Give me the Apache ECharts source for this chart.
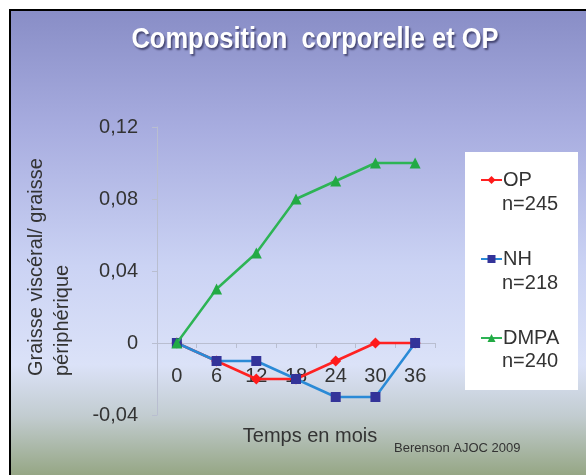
<!DOCTYPE html>
<html><head><meta charset="utf-8">
<script src="https://cdn.jsdelivr.net/npm/echarts@6/dist/echarts.min.js"></script>
<style>html,body{margin:0;padding:0;background:#fff}#c{width:586px;height:475px}</style>
</head><body><div id="c"></div>
<script>
const categories = ['0','6','12','18','24','30','36'];
const opValues = [0, -0.01, -0.02, -0.02, -0.01, 0, 0];
const nhValues = [0, -0.01, -0.01, -0.02, -0.03, -0.03, 0];
const dmpaValues = [0, 0.03, 0.05, 0.08, 0.09, 0.1, 0.1];
const seriesNames = ['OP', 'NH', 'DMPA'];
const seriesCounts = ['n=245', 'n=218', 'n=240'];

const chart = echarts.init(document.getElementById('c'), null, {renderer:'canvas'});
const font = 'Liberation Sans, Arial, sans-serif';
const fmt = v => (Math.abs(v) < 1e-9 ? '0' : v.toFixed(2).replace('.', ','));
const axisColor = '#b9bed0';
chart.setOption({
  animation: false,
  textStyle: {fontFamily: font},
  graphic: [
    {type:'rect', z:-10, shape:{x:10,y:10,width:577,height:466},
     style:{fill:new echarts.graphic.LinearGradient(0,0,0,1,[
       {offset:0,color:'#888dc6'},{offset:0.25,color:'#a7acdf'},{offset:0.55,color:'#cbd3f4'},
       {offset:0.76,color:'#dbe2f8'},{offset:0.87,color:'#c2ccd0'},{offset:1,color:'#94a582'}]),
       stroke:'#000', lineWidth:2}},
    {type:'text', x:315, y:40, scaleX:0.88, z:10,
     style:{text:'Composition  corporelle et OP', x:0, y:0, textAlign:'center', textVerticalAlign:'middle', fill:'#fff',
       font:'bold 29px "Liberation Sans", Arial, sans-serif',
       textShadowColor:'rgba(40,40,80,0.75)', textShadowBlur:2, textShadowOffsetX:1.5, textShadowOffsetY:1.5}},
    {type:'rect', z:1, shape:{x:465,y:152,width:113,height:238}, style:{fill:'#fff'}},
    {type:'text', z:5, x:36, y:376, rotation:Math.PI/2,
     style:{text:'Graisse viscéral/ graisse', fill:'#333', font:'20px '+font, textVerticalAlign:'middle'}},
    {type:'text', z:5, x:62, y:376, rotation:Math.PI/2,
     style:{text:'périphérique', fill:'#333', font:'20px '+font, textVerticalAlign:'middle'}},
    {type:'text', z:5, x:502, y:204, style:{text:seriesCounts[0], fill:'#333', font:'20px '+font, textVerticalAlign:'middle'}},
    {type:'text', z:5, x:502, y:283, style:{text:seriesCounts[1], fill:'#333', font:'20px '+font, textVerticalAlign:'middle'}},
    {type:'text', z:5, x:502, y:361, style:{text:seriesCounts[2], fill:'#333', font:'20px '+font, textVerticalAlign:'middle'}},
    {type:'text', z:5, x:310, y:436, style:{text:'Temps en mois', fill:'#333', font:'20px '+font, textAlign:'center', textVerticalAlign:'middle'}},
    {type:'text', z:5, x:394, y:448, style:{text:'Berenson AJOC 2009', fill:'#333', font:'13px '+font, textVerticalAlign:'middle'}}
  ],
  legend: {
    orient:'vertical', left:480, top:170, padding:0, itemGap:59, itemWidth:21, itemHeight:10,
    data: seriesNames, textStyle:{fontSize:20, color:'#333', padding:[0,0,0,-4]}, z:5
  },
  grid: {left:157, right:151, top:127, bottom:60, containLabel:false, outerBoundsMode:'none'},
  xAxis: [{
    type:'category', data:categories, boundaryGap:true,
    axisLine:{onZero:true, lineStyle:{color:axisColor, width:1}},
    axisTick:{show:true, lineStyle:{color:axisColor}, length:5},
    axisLabel:{show:false}
  }, {
    type:'category', data:categories, boundaryGap:true, position:'bottom',
    axisLine:{show:false}, axisTick:{show:false},
    axisLabel:{fontSize:20, color:'#333', margin:-49}
  }],
  yAxis: {
    type:'value', min:-0.04, max:0.12, interval:0.04,
    axisLine:{show:true, lineStyle:{color:axisColor}},
    axisTick:{show:true, lineStyle:{color:axisColor}, length:5},
    splitLine:{show:false},
    axisLabel:{fontSize:20, color:'#333', margin:19, formatter:fmt}
  },
  series: [
    {name:'OP', type:'line', data:opValues, symbol:'diamond', symbolSize:11,
     lineStyle:{color:'#ff2222', width:2.5}, itemStyle:{color:'#ff1a1a'}, z:2},
    {name:'NH', type:'line', data:nhValues, symbol:'rect', symbolSize:10,
     lineStyle:{color:'#2a8ad6', width:2.5}, itemStyle:{color:'#333399'}, z:3},
    {name:'DMPA', type:'line', data:dmpaValues, symbol:'triangle', symbolSize:11,
     lineStyle:{color:'#2db455', width:2.5}, itemStyle:{color:'#22aa44'}, z:4}
  ]
});
</script></body></html>
